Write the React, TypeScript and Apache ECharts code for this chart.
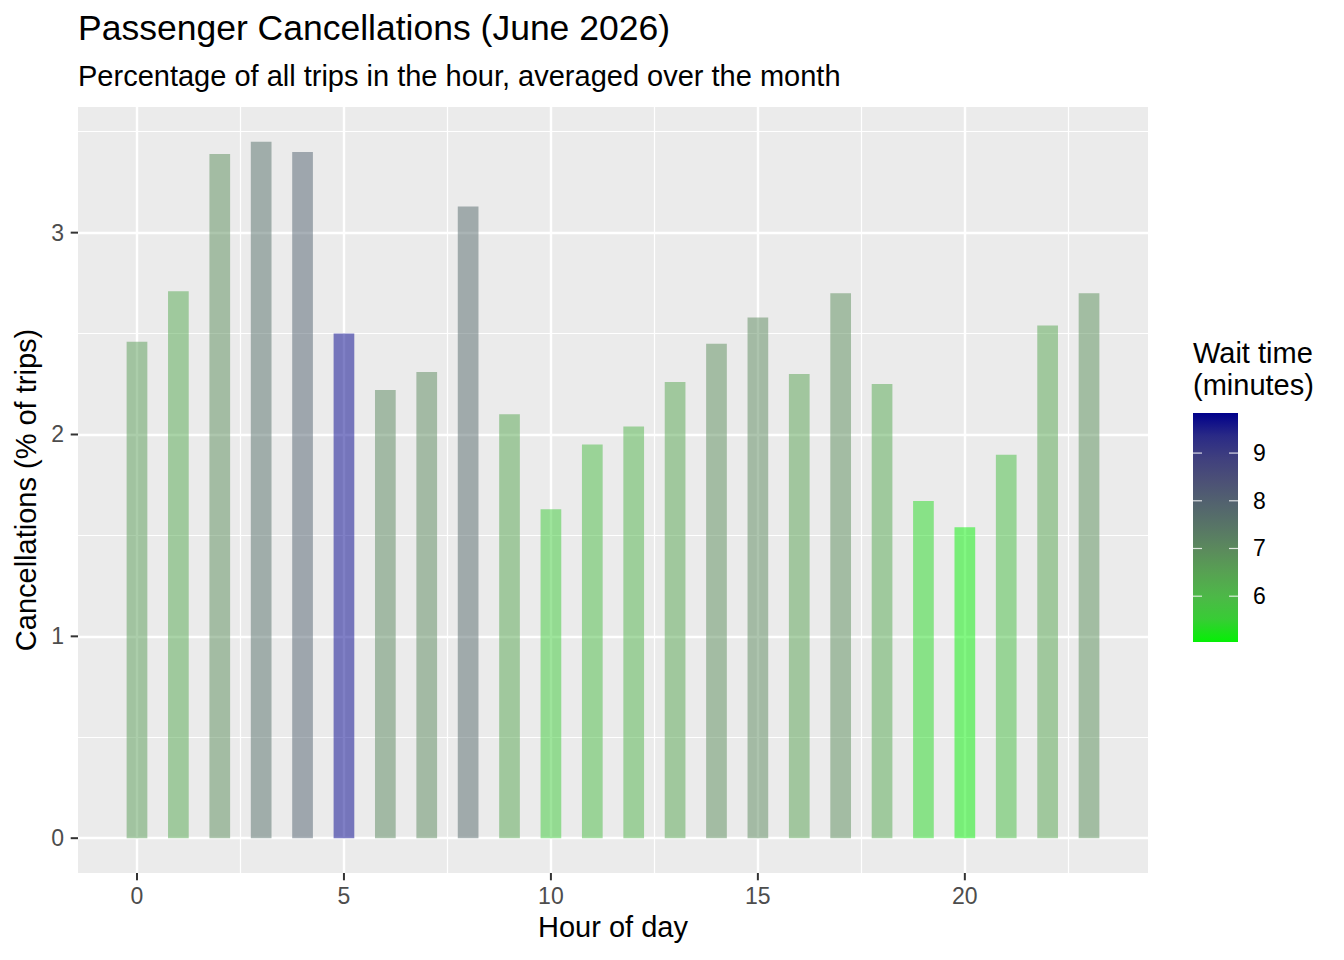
import React, { useEffect, useRef } from "react";
import * as echarts from "echarts";

// ---- data ----
const HOURS = [0, 1, 2, 3, 4, 5, 6, 7, 8, 9, 10, 11, 12, 13, 14, 15, 16, 17, 18, 19, 20, 21, 22, 23];
const CANCELLATIONS = [2.46, 2.71, 3.39, 3.45, 3.40, 2.50, 2.22, 2.31, 3.13, 2.10, 1.63, 1.95, 2.04, 2.26, 2.45, 2.58, 2.30, 2.70, 2.25, 1.67, 1.54, 1.90, 2.54, 2.70];
const WAIT_TIME = [6.6, 6.35, 6.9, 7.6, 8.0, 9.84, 7.05, 7.0, 7.75, 6.4, 5.6, 5.9, 6.1, 6.4, 6.9, 7.0, 6.5, 6.9, 6.35, 5.35, 5.04, 5.85, 6.4, 6.85];
const X_TICKS = [0, 5, 10, 15, 20];
const X_MINOR = [2.5, 7.5, 12.5, 17.5, 22.5];
const Y_TICKS = [0, 1, 2, 3];
const Y_MINOR = [0.5, 1.5, 2.5, 3.5];
const LEGEND_TICKS = [6, 7, 8, 9];

// ---- style ----
const PALETTE = [
  "#05F005", "#38CC35", "#4DB848", "#57A252", "#5B8B5C", "#587666",
  "#53646E", "#4C5176", "#40407E", "#2A2A86", "#00008B",
];
const FONT = "'Liberation Sans', Arial, Helvetica, sans-serif";

export default function App() {
  const ref = useRef<HTMLDivElement>(null);
  useEffect(() => {
    if (!ref.current) return;
    const chart = echarts.init(ref.current, undefined, { renderer: "svg" });

    const yMaxData = Math.max(...CANCELLATIONS);
    const yPad = yMaxData * 0.05;
    const xLo = HOURS[0] - 0.25;
    const xHi = HOURS[HOURS.length - 1] + 0.25;
    const xPad = (xHi - xLo) * 0.05;
    const wMin = Math.min(...WAIT_TIME);
    const wMax = Math.max(...WAIT_TIME);

    // colorbar geometry
    const cbX = 1193, cbY = 413, cbW = 45, cbH = 229;
    const legendEls: any[] = [
      { type: "text", left: cbX, top: 338, style: { text: "Wait time", font: `29px ${FONT}`, fill: "#000" } },
      { type: "text", left: cbX, top: 370, style: { text: "(minutes)", font: `29px ${FONT}`, fill: "#000" } },
      {
        type: "rect",
        shape: { x: cbX, y: cbY, width: cbW, height: cbH },
        style: {
          fill: new echarts.graphic.LinearGradient(0, 1, 0, 0,
            PALETTE.map((c, i) => ({ offset: i / (PALETTE.length - 1), color: c }))),
        },
      },
    ];
    LEGEND_TICKS.forEach((v) => {
      const y = cbY + cbH - ((v - wMin) / (wMax - wMin)) * cbH;
      legendEls.push(
        { type: "line", shape: { x1: cbX, y1: y, x2: cbX + 9, y2: y }, style: { stroke: "#fff", lineWidth: 1.2, opacity: 0.8 } },
        { type: "line", shape: { x1: cbX + cbW - 9, y1: y, x2: cbX + cbW, y2: y }, style: { stroke: "#fff", lineWidth: 1.2, opacity: 0.8 } },
        { type: "text", x: 1253, y, style: { text: String(v), font: `23px ${FONT}`, fill: "#000", verticalAlign: "middle", align: "left" } },
      );
    });

    // axis tick marks (ggplot style, outside the panel)
    const gridLeft = 78, gridTop = 107, gridW = 1070, gridH = 766;
    const yLo = -yPad, yHi = yMaxData + yPad;
    const xMin = xLo - xPad, xMax = xHi + xPad;
    Y_TICKS.forEach((v) => {
      const y = gridTop + gridH - ((v - yLo) / (yHi - yLo)) * gridH;
      legendEls.push({ type: "line", shape: { x1: gridLeft - 7.3, y1: y, x2: gridLeft, y2: y }, style: { stroke: "#333", lineWidth: 2 } });
    });
    X_TICKS.forEach((v) => {
      const x = gridLeft + ((v - xMin) / (xMax - xMin)) * gridW;
      legendEls.push({ type: "line", shape: { x1: x, y1: gridTop + gridH, x2: x, y2: gridTop + gridH + 7.3 }, style: { stroke: "#333", lineWidth: 2 } });
    });

    const gridLines = [
      ...Y_TICKS.map((v) => ({ yAxis: v, lineStyle: { width: 2.4 } })),
      ...Y_MINOR.map((v) => ({ yAxis: v, lineStyle: { width: 1.2 } })),
      ...X_TICKS.map((v) => ({ xAxis: v, lineStyle: { width: 2.4 } })),
      ...X_MINOR.map((v) => ({ xAxis: v, lineStyle: { width: 1.2 } })),
    ];

    chart.setOption({
      animation: false,
      textStyle: { fontFamily: FONT },
      title: {
        text: "Passenger Cancellations (June 2026)",
        subtext: "Percentage of all trips in the hour, averaged over the month",
        left: 78,
        top: 10,
        padding: 0,
        itemGap: 15,
        textStyle: { fontFamily: FONT, fontSize: 35.5, fontWeight: "normal", color: "#000", lineHeight: 35 },
        subtextStyle: { fontFamily: FONT, fontSize: 29, color: "#000", lineHeight: 29 },
      },
      grid: {
        left: gridLeft, top: gridTop, width: gridW, height: gridH,
        show: true, backgroundColor: "#EBEBEB", borderWidth: 0,
      },
      xAxis: {
        type: "value",
        min: xMin,
        max: xMax,
        name: "Hour of day",
        nameLocation: "middle",
        nameGap: 39,
        nameTextStyle: { fontFamily: FONT, fontSize: 29, color: "#000" },
        axisLine: { show: false },
        axisTick: { show: false },
        axisLabel: { customValues: X_TICKS, fontFamily: FONT, fontSize: 23, color: "#4D4D4D", margin: 11 },
        splitLine: { show: false },
      },
      yAxis: {
        type: "value",
        min: yLo,
        max: yHi,
        name: "Cancellations (% of trips)",
        nameLocation: "middle",
        nameRotate: 90,
        nameGap: 38,
        nameTextStyle: { fontFamily: FONT, fontSize: 29, color: "#000" },
        axisLine: { show: false },
        axisTick: { show: false },
        axisLabel: { customValues: Y_TICKS, fontFamily: FONT, fontSize: 23, color: "#4D4D4D", margin: 14 },
        splitLine: { show: false },
      },
      visualMap: {
        show: false,
        type: "continuous",
        seriesIndex: 1,
        dimension: 2,
        min: wMin,
        max: wMax,
        inRange: { color: PALETTE },
      },
      series: [
        {
          type: "scatter",
          data: [],
          silent: true,
          z: 1,
          markLine: {
            silent: true,
            z: 1,
            symbol: ["none", "none"],
            label: { show: false },
            emphasis: { disabled: true },
            lineStyle: { color: "#FFFFFF", type: "solid" },
            animation: false,
            data: gridLines,
          },
        },
        {
          type: "bar",
          z: 2,
          barWidth: "50%",
          itemStyle: { opacity: 0.5 },
          emphasis: { disabled: true },
          data: HOURS.map((h, i) => [h, CANCELLATIONS[i], WAIT_TIME[i]]),
        },
      ],
      graphic: legendEls,
    });
    return () => chart.dispose();
  }, []);
  return (
    <div
      ref={ref}
      style={{ position: "absolute", left: 0, top: 0, width: 1344, height: 960, background: "#fff" }}
    />
  );
}
